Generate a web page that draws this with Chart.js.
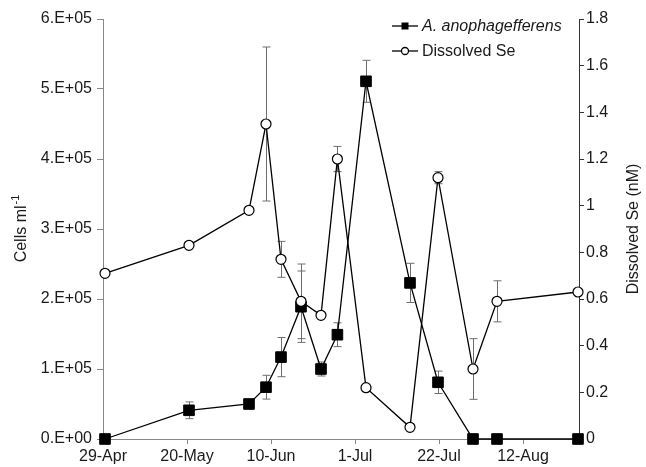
<!DOCTYPE html>
<html>
<head>
<meta charset="utf-8">
<script src="https://cdn.jsdelivr.net/npm/chart.js@4"></script>
<style>
    body { margin: 0; background: #fff; }
    #wrap { width: 646px; height: 467px; }
</style>
</head>
<body>
<div id="wrap"><canvas id="myChart" width="646" height="467"></canvas></div>
<script>
// sampling days, counted from 29-Apr
const days = [0.5, 21.5, 36.5, 40.75, 44.5, 49.5, 54.5, 58.6, 65.75, 76.75, 83.75, 92.5, 98.5, 118.75];

// A. anophagefferens (cells ml-1) and its error
const cells = [0, 41000, 50000, 74000, 117000, 189000, 100000, 149000, 511000, 223000, 81000, 0, 0, 0];
const cellsErr = [0, 12000, 0, 17000, 28000, 51000, 10000, 17000, 30000, 28000, 16000, 0, 0, 0];

// dissolved Se (nM) and its error
const selenium = [0.71, 0.83, 0.98, 1.35, 0.77, 0.59, 0.53, 1.2, 0.22, 0.05, 1.12, 0.3, 0.59, 0.63];
const seleniumErr = [0, 0, 0, 0.33, 0.077, 0.16, 0, 0.054, 0, 0, 0.026, 0.13, 0.088, 0];

// x axis ticks
const tickDays = [0, 21, 42, 63, 84, 105];
const tickLabels = ['29-Apr', '20-May', '10-Jun', '1-Jul', '22-Jul', '12-Aug'];

const FONT = 'Arial, "Liberation Sans", sans-serif';
const TEXT = '#1a1a1a';

/**
 * 0.E+00 / 1.E+05 style labels
 */
const sciLabel = (v) => {
    if (v === 0) {
        return '0.E+00';
    }
    const exp = Math.floor(Math.log10(v));
    const mant = Math.round(v / Math.pow(10, exp));
    return mant + '.E+' + String(exp).padStart(2, '0');
};

const toPoints = (values) => days.map((d, i) => ({ x: d, y: values[i] }));

/**
 * Error bars, drawn under the markers.
 */
const errorBars = {
    id: 'errorBars',
    beforeDatasetsDraw: (chart) => {
        const ctx = chart.ctx;
        const xScale = chart.scales.x;
        const sets = [
            { values: cells, errs: cellsErr, scale: chart.scales.y },
            { values: selenium, errs: seleniumErr, scale: chart.scales.y2 },
        ];
        ctx.save();
        ctx.strokeStyle = '#6e6e6e';
        ctx.lineWidth = 1;
        sets.forEach((set) => {
            set.values.forEach((v, i) => {
                const e = set.errs[i];
                if (!e) {
                    return;
                }
                const x = Math.round(xScale.getPixelForValue(days[i])) + 0.5;
                const top = set.scale.getPixelForValue(v + e);
                const bottom = set.scale.getPixelForValue(v - e);
                ctx.beginPath();
                ctx.moveTo(x, top);
                ctx.lineTo(x, bottom);
                ctx.moveTo(x - 4, top);
                ctx.lineTo(x + 4, top);
                ctx.moveTo(x - 4, bottom);
                ctx.lineTo(x + 4, bottom);
                ctx.stroke();
            });
        });
        ctx.restore();
    },
};

/**
 * Axis titles and the legend box.
 */
const decorations = {
    id: 'decorations',
    afterDraw: (chart) => {
        const ctx = chart.ctx;
        const area = chart.chartArea;
        const midY = (area.top + area.bottom) / 2;

        ctx.save();
        ctx.fillStyle = TEXT;
        ctx.textBaseline = 'middle';

        // left title with superscript
        ctx.save();
        ctx.translate(22, midY);
        ctx.rotate(-Math.PI / 2);
        ctx.font = '16px ' + FONT;
        const main = 'Cells ml';
        ctx.font = '11px ' + FONT;
        const supW = ctx.measureText('-1').width;
        ctx.font = '16px ' + FONT;
        const mainW = ctx.measureText(main).width;
        const startX = -(mainW + supW) / 2;
        ctx.textAlign = 'left';
        ctx.fillText(main, startX, 0);
        ctx.font = '11px ' + FONT;
        ctx.fillText('-1', startX + mainW + 1, -6);
        ctx.restore();

        // right title
        ctx.save();
        ctx.translate(634, midY);
        ctx.rotate(-Math.PI / 2);
        ctx.font = '16px ' + FONT;
        ctx.textAlign = 'center';
        ctx.fillText('Dissolved Se (nM)', 0, 0);
        ctx.restore();

        // legend
        const lx = 392;
        const rows = [
            { y: 26, label: 'A. anophagefferens', italic: true, square: true },
            { y: 51, label: 'Dissolved Se', italic: false, square: false },
        ];
        rows.forEach((row) => {
            ctx.strokeStyle = '#000';
            ctx.lineWidth = 1.3;
            ctx.beginPath();
            ctx.moveTo(lx, row.y);
            ctx.lineTo(lx + 26, row.y);
            ctx.stroke();
            if (row.square) {
                ctx.fillStyle = '#000';
                ctx.fillRect(lx + 9.5, row.y - 3.5, 7, 7);
            } else {
                ctx.fillStyle = '#fff';
                ctx.beginPath();
                ctx.arc(lx + 13, row.y, 3.5, 0, Math.PI * 2);
                ctx.fill();
                ctx.stroke();
            }
            ctx.fillStyle = TEXT;
            ctx.textAlign = 'left';
            ctx.font = (row.italic ? 'italic ' : '') + '16px ' + FONT;
            ctx.fillText(row.label, lx + 30, row.y + 1);
        });

        ctx.restore();
    },
};

const createChart = () => {
    const config = {
        type: 'line',
        data: {
            datasets: [
                {
                    label: 'A. anophagefferens',
                    data: toPoints(cells),
                    yAxisID: 'y',
                    order: 2,
                    borderColor: '#000',
                    borderWidth: 1.3,
                    pointStyle: 'rect',
                    pointRadius: 7.5,
                    pointBackgroundColor: '#000',
                    pointBorderColor: '#000',
                    pointBorderWidth: 1,
                    tension: 0,
                    clip: false,
                },
                {
                    label: 'Dissolved Se',
                    data: toPoints(selenium),
                    yAxisID: 'y2',
                    order: 1,
                    borderColor: '#000',
                    borderWidth: 1.3,
                    pointStyle: 'circle',
                    pointRadius: 5,
                    pointBackgroundColor: '#fff',
                    pointBorderColor: '#000',
                    pointBorderWidth: 1.2,
                    tension: 0,
                    clip: false,
                },
            ],
        },
        options: {
            responsive: false,
            animation: false,
            layout: {
                padding: { top: 19, right: 0, bottom: 0, left: 0 },
            },
            plugins: {
                legend: { display: false },
                tooltip: { enabled: false },
            },
            scales: {
                x: {
                    type: 'linear',
                    position: 'bottom',
                    min: 0,
                    max: 119,
                    afterBuildTicks: (scale) => {
                        scale.ticks = tickDays.map((v) => ({ value: v }));
                    },
                    afterFit: (scale) => {
                        scale.height = 28;
                    },
                    ticks: {
                        autoSkip: false,
                        maxRotation: 0,
                        padding: 3,
                        color: TEXT,
                        font: { family: FONT, size: 16 },
                        callback: (v) => {
                            const i = tickDays.indexOf(v);
                            return i >= 0 ? tickLabels[i] : '';
                        },
                    },
                    grid: { drawOnChartArea: false, tickLength: 5, color: '#888' },
                    border: { color: '#888', width: 1 },
                },
                y: {
                    position: 'left',
                    min: 0,
                    max: 600000,
                    afterFit: (scale) => {
                        scale.width = 103;
                    },
                    ticks: {
                        stepSize: 100000,
                        padding: 5,
                        color: TEXT,
                        font: { family: FONT, size: 16 },
                        callback: (v) => sciLabel(v),
                    },
                    grid: { drawOnChartArea: false, tickLength: 6, color: '#888' },
                    border: { color: '#888', width: 1 },
                },
                y2: {
                    position: 'right',
                    min: 0,
                    max: 1.8,
                    afterFit: (scale) => {
                        scale.width = 67;
                    },
                    ticks: {
                        stepSize: 0.2,
                        padding: 2,
                        color: TEXT,
                        font: { family: FONT, size: 16 },
                        callback: (v) => String(parseFloat(v.toFixed(1))),
                    },
                    grid: { drawOnChartArea: false, tickLength: 5, color: '#333' },
                    border: { color: '#333', width: 1 },
                },
            },
        },
        plugins: [errorBars, decorations],
    };

    new Chart(document.getElementById('myChart'), config);
};

createChart();
</script>
</body>
</html>
